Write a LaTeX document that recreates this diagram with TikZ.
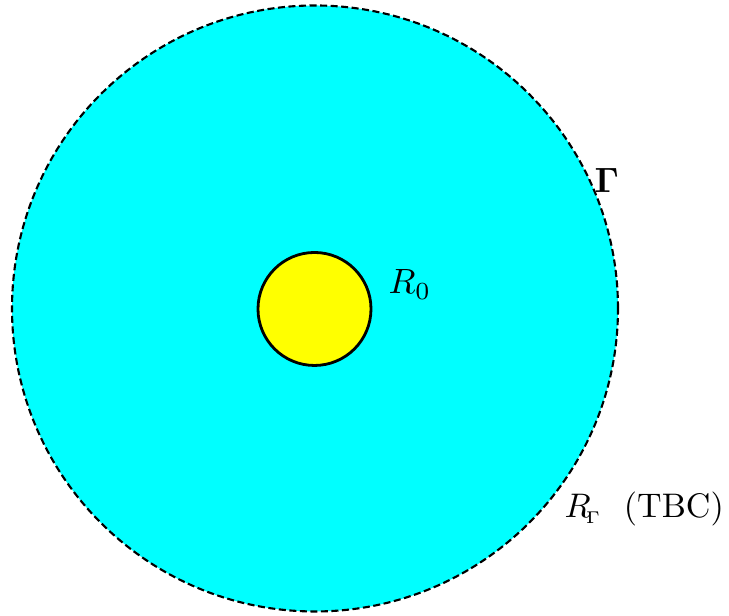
\documentclass[tikz,border=0pt]{standalone}
\usepackage{amsmath,amssymb}
\usepackage{tikz}
\definecolor{aqua}{rgb}{0,1,1}
\definecolor{lemon}{rgb}{1,1,0}
\tikzset{
  outer/.style={circle,draw,fill=aqua,line width=0.6pt,dash pattern=on 2pt off 1pt,minimum size=6.06cm,inner sep=0pt},
  inner/.style={circle,draw,fill=lemon,line width=0.8pt,minimum size=1.13cm,inner sep=0pt},
  lbl/.style={anchor=base west,inner sep=0pt}
}
\begin{document}
\begin{tikzpicture}
\useasboundingbox (0,0) rectangle (7.29,6.16);
\node[outer] (gam) at (3.15,3.075) {};
\node[inner] (ball) at (3.145,3.07) {};
\node[lbl] (r0) at (3.88,3.22) {$R_0$};
\node[lbl] (gname) at (5.94,4.23) {$\boldsymbol{\Gamma}$};
\node[lbl,scale=0.97] (rg) at (5.64,0.98) {$R_{\!\scriptscriptstyle\Gamma}$\hspace{6.5pt}(TBC)};
\end{tikzpicture}
\end{document}
